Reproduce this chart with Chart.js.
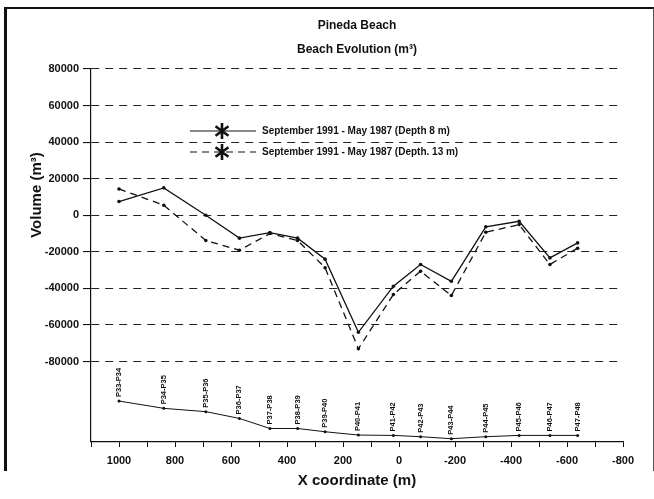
<!DOCTYPE html>
<html>
<head>
<meta charset="utf-8">
<script src="https://cdn.jsdelivr.net/npm/chart.js@4.4.1/dist/chart.umd.min.js"></script>
<style>
  html, body { margin: 0; padding: 0; background: #fff; }
  #wrap { position: relative; width: 654px; height: 499px; }
  #frame {
    position: absolute; left: 4px; top: 7px; width: 646px; height: 462px;
    border-top: 2px solid #111; border-left: 3px solid #111; border-right: 1px solid #555;
    pointer-events: none;
  }
</style>
</head>
<body>
<div id="wrap">
  <canvas id="chart" width="654" height="499"></canvas>
  <div id="frame"></div>
</div>
<script>
// Pineda Beach volume changes per profile pair.

const profileLabels = ["P33-P34", "P34-P35", "P35-P36", "P36-P37", "P37-P38", "P38-P39", "P39-P40", "P40-P41",
  "P41-P42", "P42-P43", "P43-P44", "P44-P45", "P45-P46", "P46-P47", "P47-P48"];
const xCoords = [1000, 840, 690, 570, 461, 362, 264, 145, 20, -77, -187, -310, -429, -539, -638];
const depth8 = [7500, 15000, 0, -12500, -9500, -12500, -24000, -64000, -38800, -26900, -36100, -6300, -3300, -23300, -15100];
const depth13 = [14400, 5500, -13800, -19100, -10000, -13800, -28700, -73000, -43300, -30600, -43900, -9300, -5100, -26900, -18000];
// shoreline sketch drawn under the curves (same y units)
const profileLine = [-101600, -105600, -107400, -111100, -116600, -116600, -118400, -120200,
  -120400, -121100, -122200, -121100, -120400, -120400, -120400];
const yTicks = [80000, 60000, 40000, 20000, 0, -20000, -40000, -60000, -80000];
const legendTexts = ["September 1991 - May 1987 (Depth 8 m)", "September 1991 - May 1987 (Depth. 13 m)"];

const INK = "#111";
const FONT = '"Liberation Sans", Arial, Helvetica, sans-serif';

Chart.defaults.font.family = FONT;
Chart.defaults.color = INK;
Chart.defaults.animation = false;

function pts(values) {
  return xCoords.map((x, i) => ({ x, y: values[i] }));
}

function asterisk(ctx, x, y, r) {
  ctx.save();
  ctx.strokeStyle = INK;
  ctx.lineWidth = 2.6;
  ctx.beginPath();
  ctx.moveTo(x, y - r);
  ctx.lineTo(x, y + r);
  for (const a of [Math.PI / 5, -Math.PI / 5]) {
    const dx = Math.cos(a) * r, dy = Math.sin(a) * r;
    ctx.moveTo(x - dx, y - dy);
    ctx.lineTo(x + dx, y + dy);
  }
  ctx.stroke();
  ctx.restore();
}

const annotate = {
  id: "annotate",
  afterDatasetsDraw(chart) {
    const ctx = chart.ctx;
    const meta = chart.getDatasetMeta(2);
    ctx.save();
    ctx.fillStyle = INK;
    ctx.font = "bold 7.5px " + FONT;
    ctx.textAlign = "left";
    ctx.textBaseline = "middle";
    meta.data.forEach((p, i) => {
      ctx.save();
      ctx.translate(p.x, p.y - 4);
      ctx.rotate(-Math.PI / 2);
      ctx.fillText(profileLabels[i], 0, 0);
      ctx.restore();
    });
    ctx.restore();
  },
  afterDraw(chart) {
    const ctx = chart.ctx;
    // legend inside the plot
    const rows = [131, 152];
    rows.forEach((y, i) => {
      ctx.save();
      ctx.strokeStyle = INK;
      ctx.lineWidth = 1.2;
      ctx.setLineDash(i === 0 ? [] : [7, 5]);
      ctx.beginPath();
      ctx.moveTo(190, y);
      ctx.lineTo(256, y);
      ctx.stroke();
      ctx.restore();
      asterisk(ctx, 222, y, 8);
      ctx.save();
      ctx.fillStyle = INK;
      ctx.font = "bold 10px " + FONT;
      ctx.textBaseline = "middle";
      ctx.fillText(legendTexts[i], 262, y);
      ctx.restore();
    });
    // y axis title
    ctx.save();
    ctx.fillStyle = INK;
    ctx.font = "bold 15px " + FONT;
    ctx.textAlign = "center";
    ctx.textBaseline = "middle";
    ctx.translate(37, 195);
    ctx.rotate(-Math.PI / 2);
    ctx.fillText("Volume (m³)", 0, 0);
    ctx.restore();
  }
};

new Chart(document.getElementById("chart"), {
  type: "scatter",
  data: {
    datasets: [
      { label: legendTexts[0], data: pts(depth8), showLine: true, borderColor: INK, borderWidth: 1.3,
        pointRadius: 1.8, pointBackgroundColor: INK, pointBorderWidth: 0 },
      { label: legendTexts[1], data: pts(depth13), showLine: true, borderColor: INK, borderWidth: 1.3,
        borderDash: [7, 5], pointRadius: 1.8, pointBackgroundColor: INK, pointBorderWidth: 0 },
      { label: "profiles", data: pts(profileLine), showLine: true, borderColor: INK, borderWidth: 1,
        pointRadius: 1.5, pointBackgroundColor: INK, pointBorderWidth: 0 },
    ],
  },
  options: {
    responsive: false,
    layout: { padding: { left: 0, top: 14, right: 31, bottom: 9 } },
    plugins: {
      legend: { display: false },
      tooltip: { enabled: false },
      title: {
        display: true,
        fullSize: false,
        text: ["Pineda Beach", "Beach Evolution (m³)"],
        font: { size: 12, weight: "bold", lineHeight: 2 },
        color: INK,
        padding: { top: 0, bottom: 7 },
      },
    },
    scales: {
      x: {
        type: "linear",
        reverse: true,
        min: -800,
        max: 1100,
        afterFit: (s) => { s.height = 48; },
        grid: { drawOnChartArea: false, drawTicks: true, tickLength: 5, tickColor: INK, color: INK },
        border: { display: true, color: INK, width: 1.2 },
        ticks: {
          stepSize: 100, autoSkip: false, maxRotation: 0, padding: 7, color: INK,
          font: { size: 11, weight: "bold" },
          callback: (v) => (v % 200 === 0 && v <= 1000 ? String(v) : ""),
        },
        title: { display: true, text: "X coordinate (m)", color: INK, font: { size: 15, weight: "bold" }, padding: 0 },
      },
      y: {
        type: "linear",
        min: -124000,
        max: 80000,
        afterFit: (s) => { s.width = 91; },
        afterBuildTicks: (s) => { s.ticks = yTicks.map((v) => ({ value: v })); },
        grid: { color: "#222", lineWidth: 1.1, tickLength: 8, tickColor: INK },
        border: { display: true, color: INK, width: 1.2, dash: [8, 6] },
        ticks: { padding: 4, color: INK, font: { size: 11, weight: "bold" }, callback: (v) => String(v) },
      },
    },
  },
  plugins: [annotate],
});
</script>
</body>
</html>
